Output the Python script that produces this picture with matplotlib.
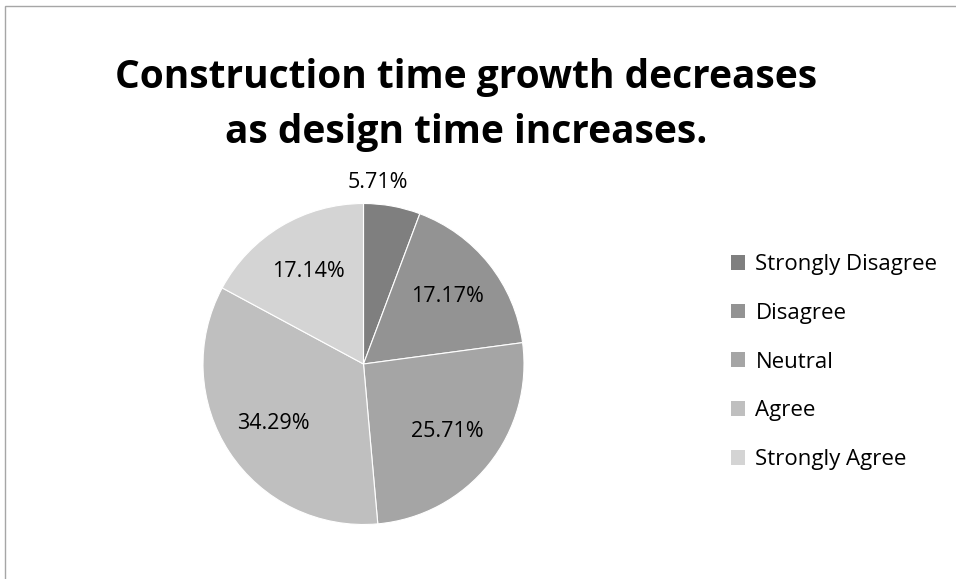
import numpy as np
import matplotlib.pyplot as plt
from matplotlib.patches import Rectangle

title = "Construction time growth decreases\nas design time increases."
categories = ["Strongly Disagree", "Disagree", "Neutral", "Agree", "Strongly Agree"]
values = [5.71, 17.17, 25.71, 34.29, 17.14]
labels = ["5.71%", "17.17%", "25.71%", "34.29%", "17.14%"]
colors = ["#7f7f7f", "#939393", "#a5a5a5", "#bfbfbf", "#d4d4d4"]

plt.rcParams['font.family'] = ['Open Sans', 'DejaVu Sans']

W, H = 956, 579
fig = plt.figure(figsize=(W / 100, H / 100), dpi=100)

# chart border (left and top edges visible)
fig.patches.append(Rectangle((5 / W, -0.1), 1.2, 1 - 6 / H + 0.1,
                             transform=fig.transFigure, fill=False,
                             edgecolor="#a6a6a6", linewidth=1))

fig.text(466 / W, 1 - 105 / H, title, ha="center", va="center",
         fontsize=28, fontweight="bold", linespacing=1.55)

# pie axes: centre (363.5, 364) px, radius 160.5 px
r = 160.5
ax = fig.add_axes([(363.5 - r) / W, (H - 364 - r) / H, 2 * r / W, 2 * r / H])
wedges, _ = ax.pie(values, colors=colors, startangle=90, counterclock=False,
                   wedgeprops=dict(edgecolor="white", linewidth=0.8))
ax.set_xlim(-1, 1)
ax.set_ylim(-1, 1)
ax.set_aspect("equal")

for i, (w, lab) in enumerate(zip(wedges, labels)):
    mid = np.deg2rad((w.theta1 + w.theta2) / 2)
    if i == 0:
        x, y = 0.09, 1.13
    else:
        x, y = 0.67 * np.cos(mid), 0.67 * np.sin(mid)
    ax.text(x, y, lab, ha="center", va="center", fontsize=15.5)

handles = [Rectangle((0, 0), 1, 1, facecolor=c) for c in colors]
fig.legend(handles, categories, loc="center left",
           bbox_to_anchor=(711 / W, 1 - 362 / H), frameon=False,
           fontsize=16, handlelength=0.65, handleheight=0.65,
           handletextpad=0.45, labelspacing=1.25)

fig.savefig("out.png", dpi=100)
